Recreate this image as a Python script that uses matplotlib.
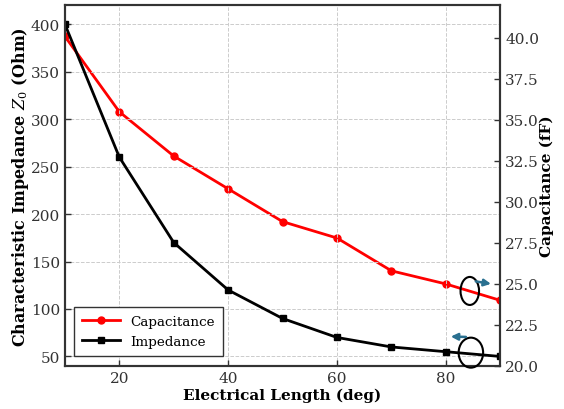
import matplotlib
matplotlib.use("Agg")
import matplotlib.pyplot as plt
from matplotlib.patches import Ellipse

# data
length = [10, 20, 30, 40, 50, 60, 70, 80, 90]
impedance = [400, 260, 170, 120, 90, 70, 60, 55, 50]
capacitance = [40.1, 35.5, 32.8, 30.8, 28.8, 27.8, 25.8, 25.0, 24.0]

plt.rcParams['font.family'] = 'DejaVu Serif'
plt.rcParams['mathtext.fontset'] = 'dejavuserif'
plt.rcParams['font.size'] = 11

fig, ax = plt.subplots(figsize=(5.64, 4.10), dpi=100)
fig.subplots_adjust(left=0.115, right=0.887, top=0.985, bottom=0.105)
ax2 = ax.twinx()

l1, = ax2.plot(length, capacitance, color='red', marker='o', markersize=5,
               linewidth=2, label='Capacitance')
l2, = ax.plot(length, impedance, color='black', marker='s', markersize=5,
              linewidth=2, label='Impedance')

ax.set_xlim(10, 90)
ax.set_ylim(40, 420)
ax2.set_ylim(20, 42)
ax.set_xticks([20, 40, 60, 80])
ax.set_yticks(range(50, 401, 50))
ax2.set_yticks([20.0, 22.5, 25.0, 27.5, 30.0, 32.5, 35.0, 37.5, 40.0])
ax2.set_yticklabels([f'{v:.1f}' for v in ax2.get_yticks()])

ax.grid(True, linestyle='--', color='#cccccc', linewidth=0.7)
ax.set_xlabel('Electrical Length (deg)', fontweight='bold', labelpad=2)
ax.set_ylabel('Characteristic Impedance $Z_0$ (Ohm)', fontweight='bold',
              fontsize=11.5, labelpad=0)
ax2.set_ylabel('Capacitance (fF)', fontweight='bold', labelpad=0)

for a in (ax, ax2):
    a.tick_params(direction='in', length=4, width=1, labelsize=11, colors='#333333')
    for s in a.spines.values():
        s.set_linewidth(1.5)
        s.set_color('#333333')

# ellipses + arrows marking which curve goes to which axis
ax.add_patch(Ellipse((84.4, 119), 3.4, 29.5, fill=False, edgecolor='black',
                     linewidth=1.5, zorder=5))
ax.add_patch(Ellipse((84.6, 54), 4.5, 31.6, fill=False, edgecolor='black',
                     linewidth=1.5, zorder=5, clip_on=False))
ax.annotate('', xy=(88.8, 126), xytext=(85.0, 129.5),
            arrowprops=dict(arrowstyle='-|>', color='#2a7090', lw=1.8,
                            mutation_scale=10), zorder=6)
ax.annotate('', xy=(80.4, 71), xytext=(84.2, 70.5),
            arrowprops=dict(arrowstyle='-|>', color='#2a7090', lw=1.8,
                            mutation_scale=10), zorder=6)

leg = ax.legend([l1, l2], ['Capacitance', 'Impedance'], loc='lower left',
                fancybox=False, edgecolor='#333333', framealpha=1, fontsize=9.7,
                bbox_to_anchor=(0.005, 0.01), handlelength=2.8,
                borderpad=0.6, labelspacing=0.5)
leg.get_frame().set_linewidth(1.0)
ax.set_zorder(ax2.get_zorder() + 1)
ax.patch.set_visible(False)

fig.savefig('out.png', dpi=100)
